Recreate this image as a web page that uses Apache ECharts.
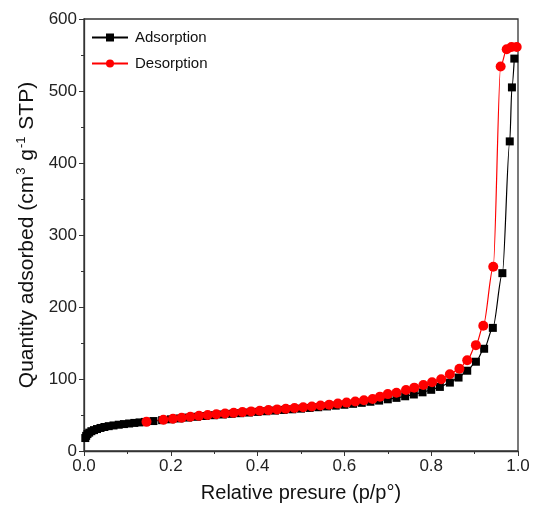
<!DOCTYPE html>
<html>
<head>
<meta charset="utf-8">
<script src="https://cdn.jsdelivr.net/npm/echarts@6/dist/echarts.min.js"></script>
<style>
  html, body { margin: 0; padding: 0; background: #fff; }
  #chart { width: 533px; height: 513px; }
</style>
</head>
<body>
<div id="chart"></div>
<script>
// adsorption branch (black squares)
const adsX = [0.003, 0.005, 0.008, 0.012, 0.017, 0.023, 0.03, 0.038, 0.047, 0.057, 0.068, 0.08, 0.092, 0.104, 0.116, 0.128, 0.14,
  0.16, 0.18, 0.2, 0.22, 0.24, 0.26, 0.28, 0.3, 0.32, 0.34, 0.36, 0.38, 0.4, 0.42, 0.44, 0.46, 0.48, 0.5,
  0.52, 0.54, 0.56, 0.58, 0.6, 0.62, 0.64, 0.66, 0.68, 0.7, 0.72, 0.74, 0.76, 0.78, 0.8, 0.82, 0.843, 0.863,
  0.883, 0.903, 0.922, 0.942, 0.964, 0.981, 0.986, 0.9915]
const adsY = [18, 21, 23.5, 25.5, 27.5, 29, 30.5, 32, 33.3, 34.5, 35.5, 36.5, 37.4, 38.2, 39, 39.7, 40.4,
  41.6, 42.8, 44, 45.2, 46.4, 47.5, 48.6, 49.7, 50.7, 51.6, 52.5, 53.4, 54.3, 55.2, 56.1, 57, 57.9, 58.8,
  59.8, 60.8, 61.9, 63, 64.2, 65.5, 66.9, 68.4, 70, 71.8, 73.8, 76, 78.5, 81.5, 85, 89, 95, 102,
  111.5, 124, 142, 171, 247, 430, 505, 545]

// desorption branch (red circles)
const desX = [0.997, 0.985, 0.974, 0.96, 0.943, 0.92, 0.903, 0.883, 0.865, 0.843, 0.823, 0.802, 0.782, 0.761, 0.742,
  0.72, 0.7, 0.682, 0.665, 0.645, 0.625, 0.605, 0.585, 0.565, 0.545, 0.525, 0.505, 0.485, 0.465, 0.445, 0.425,
  0.405, 0.385, 0.365, 0.345, 0.325, 0.305, 0.285, 0.265, 0.245, 0.225, 0.205, 0.183, 0.144]
const desY = [561, 561, 558, 534, 256, 174, 147, 126, 114.3, 106.5, 99.6, 95.4, 91.7, 88, 84.7,
  81, 79, 75.5, 72.3, 70.5, 68.8, 67.2, 65.8, 64.4, 63.1, 61.9, 60.8, 59.8, 58.8, 57.8, 56.8,
  55.9, 55, 54, 53, 52, 51, 49.9, 48.8, 47.6, 46.3, 44.9, 43.3, 40.5]

const seriesNames = ['Adsorption', 'Desorption']
const xTicks = [0, 0.2, 0.4, 0.6, 0.8, 1.0]
const yTicks = [0, 100, 200, 300, 400, 500, 600]

const font = 'Liberation Sans, Arial, sans-serif'
const axisColor = '#333'

const chart = echarts.init(document.getElementById('chart'), null, { renderer: 'canvas' })

chart.setOption({
  animation: false,
  grid: {
    left: 84,
    right: 15,
    top: 19,
    bottom: 62,
    show: true,
    borderColor: axisColor,
    borderWidth: 1.3
  },
  legend: {
    orient: 'vertical',
    left: 91,
    top: 30,
    padding: 0,
    itemWidth: 36,
    itemHeight: 10,
    itemGap: 11,
    data: seriesNames,
    textStyle: { fontFamily: font, fontSize: 15, color: '#111', padding: [0, 0, 0, 2] }
  },
  xAxis: {
    type: 'value',
    min: xTicks[0],
    max: xTicks[xTicks.length - 1],
    interval: 0.2,
    name: 'Relative presure (p/p°)',
    nameLocation: 'middle',
    nameGap: 32,
    nameTextStyle: { fontFamily: font, fontSize: 20, color: '#111' },
    axisLine: { lineStyle: { color: axisColor, width: 1.3 } },
    axisTick: { inside: false, length: 5, lineStyle: { color: axisColor } },
    minorTick: { show: true, splitNumber: 2, length: 3, lineStyle: { color: axisColor } },
    splitLine: { show: false },
    axisLabel: {
      fontFamily: font, fontSize: 17, color: '#222', margin: 7,
      formatter: v => v.toFixed(1)
    }
  },
  yAxis: {
    type: 'value',
    min: yTicks[0],
    max: yTicks[yTicks.length - 1],
    interval: 100,
    name: '{n|Quantity adsorbed (cm}{s|3}{n| g}{s|-1}{n| STP)}',
    nameLocation: 'middle',
    nameGap: 45,
    nameTextStyle: {
      fontFamily: font, fontSize: 21, color: '#111',
      rich: {
        n: { fontFamily: font, fontSize: 21, color: '#111', lineHeight: 24 },
        s: { fontFamily: font, fontSize: 13, color: '#111', verticalAlign: 'top', lineHeight: 24, padding: [0, 1, 10, 1] }
      }
    },
    axisLine: { lineStyle: { color: axisColor, width: 1.3 } },
    axisTick: { inside: false, length: 5, lineStyle: { color: axisColor } },
    minorTick: { show: true, splitNumber: 2, length: 3, lineStyle: { color: axisColor } },
    splitLine: { show: false },
    axisLabel: { fontFamily: font, fontSize: 17, color: '#222', margin: 7 }
  },
  series: [
    {
      name: seriesNames[0],
      type: 'line',
      symbol: 'rect',
      symbolSize: 8,
      smooth: 0.3,
      smoothMonotone: 'x',
      itemStyle: { color: '#000' },
      lineStyle: { color: '#000', width: 1.2 },
      data: adsX.map((x, i) => [x, adsY[i]])
    },
    {
      name: seriesNames[1],
      type: 'line',
      symbol: 'circle',
      symbolSize: 10,
      smooth: 0.3,
      smoothMonotone: 'x',
      itemStyle: { color: '#ff0000' },
      lineStyle: { color: '#ff0000', width: 1.2 },
      data: desX.map((x, i) => [x, desY[i]])
    }
  ]
})
</script>
</body>
</html>
